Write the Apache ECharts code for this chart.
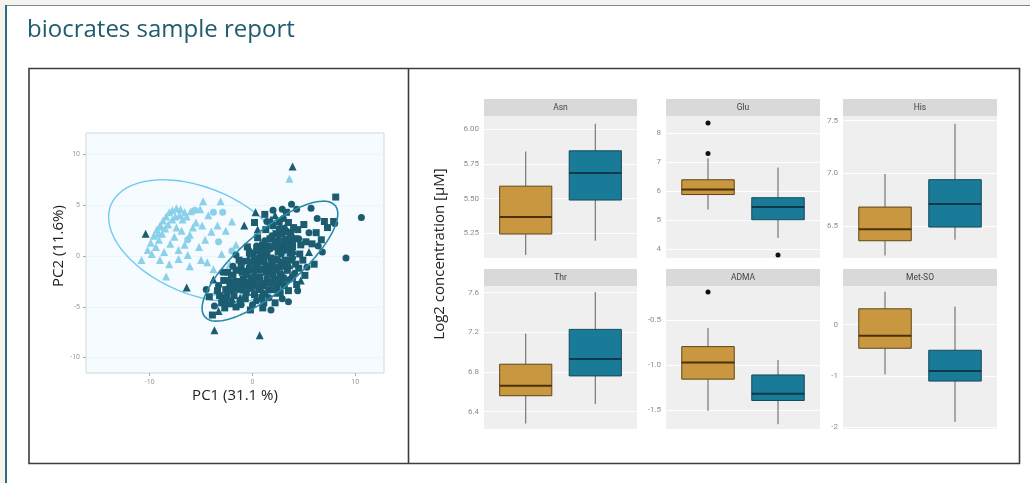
<!DOCTYPE html>
<html><head><meta charset="utf-8">
<script src="https://cdn.jsdelivr.net/npm/echarts@6/dist/echarts.min.js"></script>
<style>html,body{margin:0;padding:0;background:#f6f3ee}#c{width:1030px;height:483px}</style>
</head><body><div id="c"></div>
<script>
// ---------- PCA data ----------
const pcaTitleX = 'PC1 (31.1 %)';
const pcaTitleY = 'PC2 (11.6%)';
const pcaXTicks = [-10, 0, 10];
const pcaYTicks = [-10, -5, 0, 5, 10];
const lightTriangles = [[-10.8,-0.4],[-10.2,0.6],[-9.9,1.3],[-9.6,2.0],[-9.3,2.6],[-9.0,3.0],[-8.7,3.5],[-8.4,3.9],[-8.1,4.3],[-7.8,4.5],[-7.4,4.7],[-7.0,4.6],[-6.6,4.3],[-9.8,0.2],[-9.4,0.9],[-9.1,1.6],[-8.8,2.2],[-8.5,2.7],[-8.2,3.1],[-7.8,3.6],[-7.5,3.9],[-7.1,4.0],[-6.8,3.6],[-6.4,3.9],[-6.0,4.4],[-5.5,3.3],[-5.1,4.6],[-4.8,5.4],[-4.3,4.0],[-3.1,5.4],[-3.4,3.0],[-2.6,2.5],[-4.0,2.4],[-4.6,1.6],[-5.2,0.9],[-6.1,2.1],[-6.6,1.1],[-7.2,0.6],[-7.6,1.9],[-8.0,1.2],[-8.6,0.4],[-9.0,-0.4],[-8.1,-0.8],[-8.4,-2.0],[-7.2,-0.3],[-6.1,-1.0],[-5.0,-0.4],[-3.8,-1.3],[-3.0,0.2],[-2.2,-0.8],[-1.6,1.1],[-3.6,-3.5],[-2.8,-4.2],[-1.0,-3.9],[3.6,7.6],[-5.8,2.8],[-4.9,3.0],[-6.9,2.5],[-9.2,2.2],[-8.9,2.9],[-7.4,2.8],[-6.3,0.1],[-4.4,-0.6],[-2.0,3.4],[-1.0,-2.4],[-0.3,-1.0],[0.6,-0.2]];
const lightCircles = [[-3.8,4.3],[-2.9,4.3],[-5.6,4.5],[-3.3,1.4],[-2.0,0.5],[-6.3,1.6]];
const darkSquares = [[-3.9,-5.8],[-3.0,-4.6],[-2.5,-4.0],[-1.8,-3.9],[-1.2,-4.4],[-0.6,-3.6],[0.2,-3.8],[0.9,-4.1],[1.6,-3.3],[2.4,-3.0],[3.0,-2.2],[3.4,-1.4],[-2.2,-2.8],[-1.5,-2.5],[-0.8,-2.9],[0.1,-2.6],[0.7,-2.1],[1.3,-1.6],[2.0,-1.9],[2.6,-1.1],[3.2,-0.4],[3.7,0.3],[-1.0,-1.6],[-0.3,-1.2],[0.4,-0.9],[1.1,-0.5],[1.8,-0.2],[2.5,0.4],[3.0,1.1],[3.6,1.6],[0.0,0.2],[0.8,0.6],[1.5,1.0],[2.2,1.5],[2.9,2.2],[0.5,1.8],[1.3,2.6],[2.0,3.0],[-0.5,0.9],[4.2,-0.8],[4.6,0.2],[5.2,1.4],[5.8,1.2],[6.2,2.3],[6.7,1.6],[7.3,2.8],[7.9,3.4],[8.1,5.8],[5.0,3.1],[4.4,2.6],[6.0,-0.8],[5.1,-1.9],[4.3,-2.8],[3.5,-3.4],[2.2,-4.6],[1.0,-5.1],[-0.2,-5.3],[-1.6,-5.0],[-2.7,-5.1],[1.2,4.1],[0.2,3.3],[3.3,4.3],[4.9,-0.4],[7.0,3.4],[-4.2,-4.0],[-3.4,-3.4],[0.6,-1.4],[1.9,-2.6],[2.8,-0.6],[-1.9,-1.9],
  [-2.6,-3.3],[-2.0,-3.3],[-1.4,-3.0],[-0.9,-2.3],[-0.4,-2.6],[0.3,-2.2],[0.9,-2.7],[1.5,-2.6],[2.1,-1.3],[2.7,-1.8],[3.3,-1.0],[3.8,-0.4],[-1.6,-1.4],[-1.1,-1.0],[-0.6,-1.5],[0.0,-1.4],[0.6,-0.6],[1.3,-1.0],[1.9,-0.7],[2.4,-0.4],[2.9,0.6],[3.4,1.1],[3.9,0.9],[0.2,-0.2],[0.8,0.0],[1.4,0.4],[2.0,0.9],[2.6,1.2],[3.2,1.6],[3.7,2.2],[1.0,1.0],[1.7,1.7],[2.3,2.2],[3.0,2.7],[-0.2,-0.6],[-2.8,-2.4],[-3.2,-3.9],[-2.1,-4.7],[-0.7,-4.2],[0.6,-3.3],[1.2,-3.7],[2.1,-3.3],[2.7,-3.6],[3.9,-2.1],[4.5,-1.2],[4.1,1.7],[4.7,1.1],[3.5,3.3],[2.6,3.4],[-0.3,0.3],[-1.3,-0.4],[0.4,0.5],[1.7,-1.6],[2.4,-2.3],[-0.1,-3.0],[-1.9,-2.6],[-2.4,-1.6],[3.1,-2.9],[1.1,-4.6],[4.0,2.8]];
const darkCircles = [[10.6,3.8],[9.1,-0.2],[8.0,3.2],[5.7,4.7],[3.8,5.1],[2.9,4.6],[2.0,4.5],[-0.3,-3.2],[0.5,-2.9],[1.4,-2.2],[2.3,-1.4],[3.1,-1.0],[3.9,-0.2],[-1.4,-3.3],[-2.4,-3.5],[-3.3,-2.9],[-0.8,-0.5],[0.3,-0.3],[1.0,0.3],[1.7,0.7],[2.4,1.0],[3.3,0.6],[3.9,1.2],[4.5,1.7],[5.5,2.3],[6.4,1.0],[-2.6,-4.6],[-1.1,-4.8],[0.4,-4.4],[1.6,-4.1],[2.7,-2.6],[3.6,-2.3],[4.1,-1.7],[-0.1,-2.1],[0.9,-1.3],[1.6,-0.9],[2.3,-0.3],[2.8,0.2],[3.4,2.4],[2.6,2.7],[1.9,2.0],[1.2,1.5],[0.4,1.0],[-0.6,-1.9],[-2.9,-1.6],[-3.7,-4.9],[5.3,-1.1],[6.8,0.4],[3.0,3.7],[-1.9,-1.0],[0.0,-4.8],[1.8,-5.3],[2.9,-4.2],[4.4,-3.4],[-4.5,-3.3],[4.3,4.6],[6.3,3.7],[-1.6,0.1],[3.5,-4.5],[1.4,3.4]];
const darkTriangles = [[3.9,8.8],[-10.4,2.2],[-6.4,-3.1],[-3.7,-7.3],[0.7,-7.8],[-3.3,-5.4],[-2.0,-4.2],[-0.9,-3.3],[0.2,-1.7],[1.2,-2.9],[2.1,-0.9],[2.9,-1.7],[3.6,-0.9],[1.4,0.1],[2.6,1.9],[3.2,2.9],[1.8,3.6],[0.5,2.6],[-0.4,-0.2],[-1.3,-2.7],[-2.3,-2.2],[0.1,-3.5],[1.0,-3.5],[2.0,-2.4],[3.4,1.8],[4.0,0.5],[2.4,-3.6],[-0.2,0.6],[1.1,-0.1],[0.8,1.2],[3.9,2.1],[-3.8,-2.3],[-2.9,-4.0],[4.7,-2.4],[5.5,0.4],[2.2,4.0],[-1.2,-4.1],[1.7,-1.2],[0.3,4.3],[-0.8,3.0]];
// confidence ellipse parameters (centre, semi-axes, rotation in degrees)
const lightEllipse = {cx:-5.3, cy:1.5, a:9.18, b:5.23, angle:-22.9};
const darkEllipse = {cx:1.7, cy:-0.5, a:8.38, b:2.86, angle:40.9};

// ---------- Box plot data ----------
const yAxisTitle = 'Log2 concentration [µM]';
const groupNames = ['Group 1', 'Group 2'];
const metabolites = ['Asn', 'Glu', 'His', 'Thr', 'ADMA', 'Met-SO'];
// [min, Q1, median, Q3, max] for group 1 (gold) and group 2 (blue)
const asnBoxes  = [[5.094, 5.245, 5.367, 5.59, 5.84], [5.197, 5.49, 5.685, 5.845, 6.04]];
const gluBoxes  = [[5.37, 5.89, 6.06, 6.40, 7.14], [4.39, 5.02, 5.46, 5.78, 6.82]];
const hisBoxes  = [[6.22, 6.36, 6.47, 6.68, 6.994], [6.37, 6.49, 6.71, 6.94, 7.47]];
const thrBoxes  = [[6.28, 6.56, 6.66, 6.878, 7.187], [6.475, 6.76, 6.93, 7.23, 7.607]];
const admaBoxes = [[-1.51, -1.157, -0.97, -0.794, -0.587], [-1.66, -1.395, -1.32, -1.11, -0.944]];
const metsoBoxes= [[-0.967, -0.458, -0.213, 0.31, 0.643], [-1.89, -1.097, -0.903, -0.497, 0.354]];
// outliers: [group index, value]
const asnOut = [];
const gluOut = [[0, 8.36], [0, 7.31], [1, 3.8]];
const hisOut = [];
const thrOut = [];
const admaOut = [[0, -0.185]];
const metsoOut = [];
const asnTicks = [5.25, 5.5, 5.75, 6.0];
const gluTicks = [4, 5, 6, 7, 8];
const hisTicks = [6.5, 7.0, 7.5];
const thrTicks = [6.4, 6.8, 7.2, 7.6];
const admaTicks = [-1.5, -1.0, -0.5];
const metsoTicks = [-2, -1, 0];

// ---------- chart ----------
const chart = echarts.init(document.getElementById('c'), null, {renderer: 'canvas'});

function ellipsePts(e) {
  const pts = [], t = e.angle * Math.PI / 180;
  for (let k = 0; k <= 144; k++) {
    const u = 2 * Math.PI * k / 144;
    const x = e.a * Math.cos(u), y = e.b * Math.sin(u);
    pts.push([e.cx + x * Math.cos(t) - y * Math.sin(t), e.cy + x * Math.sin(t) + y * Math.cos(t)]);
  }
  return pts;
}

const LIGHT = '#86cfe9', DARK = '#1b5c70';
const boxFill = ['#c8973f', '#1a7b98'];
const boxStroke = ['#5e4619', '#14485a'];
const medStroke = ['#4a3207', '#0d3a4a'];

const panels = [
  {name: 'Asn', boxes: asnBoxes, out: asnOut, ticks: asnTicks, dec: 2, min: 5.072, max: 6.096, left: 484, top: 116, w: 153, h: 142},
  {name: 'Glu', boxes: gluBoxes, out: gluOut, ticks: gluTicks, dec: 0, min: 3.70, max: 8.60, left: 666, top: 116, w: 154, h: 142},
  {name: 'His', boxes: hisBoxes, out: hisOut, ticks: hisTicks, dec: 1, min: 6.196, max: 7.545, left: 843, top: 116, w: 154, h: 142},
  {name: 'Thr', boxes: thrBoxes, out: thrOut, ticks: thrTicks, dec: 1, min: 6.224, max: 7.668, left: 484, top: 286, w: 153, h: 143},
  {name: 'ADMA', boxes: admaBoxes, out: admaOut, ticks: admaTicks, dec: 1, min: -1.713, max: -0.118, left: 666, top: 286, w: 154, h: 143},
  {name: 'Met-SO', boxes: metsoBoxes, out: metsoOut, ticks: metsoTicks, dec: 0, min: -2.03, max: 0.754, left: 843, top: 286, w: 154, h: 143}
];

function boxRender(params, api) {
  const gi = api.value(0) - 1;
  const xv = api.value(0);
  const half = api.size([0.75, 0])[0] / 2;
  const yLo = api.coord([xv, api.value(1)])[1];
  const yQ1 = api.coord([xv, api.value(2)])[1];
  const pm = api.coord([xv, api.value(3)]);
  const yQ3 = api.coord([xv, api.value(4)])[1];
  const yHi = api.coord([xv, api.value(5)])[1];
  const x = pm[0];
  return {type: 'group', children: [
    {type: 'line', shape: {x1: x, y1: yHi, x2: x, y2: yQ3}, style: {stroke: '#5f5f5f', lineWidth: 1}},
    {type: 'line', shape: {x1: x, y1: yQ1, x2: x, y2: yLo}, style: {stroke: '#5f5f5f', lineWidth: 1}},
    {type: 'rect', shape: {x: x - half, y: yQ3, width: 2 * half, height: yQ1 - yQ3}, style: {fill: boxFill[gi], stroke: boxStroke[gi], lineWidth: 1}},
    {type: 'line', shape: {x1: x - half, y1: pm[1], x2: x + half, y2: pm[1]}, style: {stroke: medStroke[gi], lineWidth: 2}}
  ]};
}

const grids = [{left: 86, top: 133, width: 298, height: 240, show: true, backgroundColor: '#f5fbfe', borderColor: '#d2d8db', borderWidth: 1}];
const xAxes = [{
  type: 'value', gridIndex: 0, min: -16.2, max: 12.8,
  axisLine: {show: false, onZero: false},
  axisTick: {show: true, customValues: pcaXTicks, length: 3, lineStyle: {color: '#aaa'}},
  axisLabel: {customValues: pcaXTicks, fontSize: 7, color: '#999', margin: 6, fontFamily: 'Roboto'},
  splitLine: {show: false},
  name: pcaTitleX, nameLocation: 'middle', nameGap: 15,
  nameTextStyle: {fontSize: 15, color: '#222', fontFamily: 'Open Sans'}
}];
const yAxes = [{
  type: 'value', gridIndex: 0, min: -11.5, max: 12.1,
  axisLine: {show: false, onZero: false},
  axisTick: {show: true, customValues: pcaYTicks, length: 3, lineStyle: {color: '#aaa'}},
  axisLabel: {customValues: pcaYTicks, fontSize: 7, color: '#999', margin: 6, fontFamily: 'Roboto'},
  splitLine: {show: true, lineStyle: {color: '#e9f5fb', width: 1}},
  name: pcaTitleY, nameLocation: 'middle', nameGap: 11, nameRotate: 90,
  nameTextStyle: {fontSize: 15, color: '#222', fontFamily: 'Open Sans', padding: [0, 0, 0, 14]}
}];

const series = [
  {type: 'line', xAxisIndex: 0, yAxisIndex: 0, data: ellipsePts(lightEllipse), showSymbol: false, silent: true,
   lineStyle: {color: '#6ccbee', width: 1.4}, z: 2},
  {type: 'scatter', xAxisIndex: 0, yAxisIndex: 0, data: lightTriangles, symbol: 'triangle', symbolSize: 8,
   itemStyle: {color: LIGHT, opacity: 0.95}, z: 3},
  {type: 'scatter', xAxisIndex: 0, yAxisIndex: 0, data: lightCircles, symbol: 'circle', symbolSize: 7,
   itemStyle: {color: LIGHT, opacity: 0.95}, z: 3},
  {type: 'scatter', xAxisIndex: 0, yAxisIndex: 0, data: darkSquares, symbol: 'rect', symbolSize: 7,
   itemStyle: {color: DARK, opacity: 1}, z: 4},
  {type: 'scatter', xAxisIndex: 0, yAxisIndex: 0, data: darkCircles, symbol: 'circle', symbolSize: 7,
   itemStyle: {color: DARK, opacity: 1}, z: 4},
  {type: 'scatter', xAxisIndex: 0, yAxisIndex: 0, data: darkTriangles, symbol: 'triangle', symbolSize: 8,
   itemStyle: {color: DARK, opacity: 1}, z: 4},
  {type: 'line', xAxisIndex: 0, yAxisIndex: 0, data: ellipsePts(darkEllipse), showSymbol: false, silent: true,
   lineStyle: {color: '#2889a7', width: 1.6}, z: 5}
];

const graphics = [
  {type: 'rect', shape: {x: 5, y: 5, width: 1030, height: 483}, style: {fill: '#ffffff'}, z: -10},
  {type: 'line', shape: {x1: 5, y1: 5.5, x2: 1030, y2: 5.5}, style: {stroke: '#6f8c95', lineWidth: 1}, z: -9},
  {type: 'line', shape: {x1: 6, y1: 5, x2: 6, y2: 483}, style: {stroke: '#2b6f83', lineWidth: 2}, z: -9},
  {type: 'text', left: 27, top: 18, style: {text: 'biocrates sample report', font: '24px "Open Sans"', fill: '#1e5b6d'}},
  {type: 'rect', shape: {x: 29, y: 68.5, width: 990.5, height: 395}, style: {fill: 'none', stroke: '#3c3c3c', lineWidth: 1.6}},
  {type: 'line', shape: {x1: 408.5, y1: 68.5, x2: 408.5, y2: 463.5}, style: {stroke: '#3c3c3c', lineWidth: 1.6}},
  {type: 'text', x: 440, y: 254, rotation: Math.PI / 2,
   style: {text: yAxisTitle, font: '15px "Open Sans"', fill: '#222', align: 'center', verticalAlign: 'middle'}}
];

panels.forEach((p, k) => {
  const gi = k + 1;
  grids.push({left: p.left, top: p.top, width: p.w, height: p.h, show: true, backgroundColor: '#efefef', borderWidth: 0});
  xAxes.push({type: 'value', gridIndex: gi, min: 0.4, max: 2.6,
    axisLine: {show: false, onZero: false}, axisTick: {show: false}, axisLabel: {show: false}, splitLine: {show: false}});
  yAxes.push({type: 'value', gridIndex: gi, min: p.min, max: p.max,
    axisLine: {show: false, onZero: false},
    axisTick: {show: false, customValues: p.ticks},
    axisLabel: {customValues: p.ticks, fontSize: 8, color: '#8c8c8c', margin: 5, fontFamily: 'Roboto',
      formatter: v => Number(v).toFixed(p.dec)},
    splitLine: {show: true, lineStyle: {color: '#ffffff', width: 1.2}}});
  series.push({type: 'custom', xAxisIndex: gi, yAxisIndex: gi, renderItem: boxRender,
    encode: {x: 0, y: [1, 2, 3, 4, 5]},
    data: p.boxes.map((b, i) => [i + 1].concat(b)), z: 3});
  if (p.out.length) {
    series.push({type: 'scatter', xAxisIndex: gi, yAxisIndex: gi, symbolSize: 5,
      data: p.out.map(o => [o[0] + 1, o[1]]), itemStyle: {color: '#111', opacity: 1}, z: 4});
  }
  graphics.push({type: 'rect', shape: {x: p.left, y: p.top - 17, width: p.w, height: 17}, style: {fill: '#d9d9d9'}});
  graphics.push({type: 'text', x: p.left + p.w / 2, y: p.top - 8.5,
    style: {text: p.name, font: '8.5px Roboto', fill: '#444', align: 'center', verticalAlign: 'middle'}});
});

chart.setOption({
  backgroundColor: '#f6f3ee',
  animation: false,
  grid: grids, xAxis: xAxes, yAxis: yAxes, series: series, graphic: graphics
});
</script></body></html>
